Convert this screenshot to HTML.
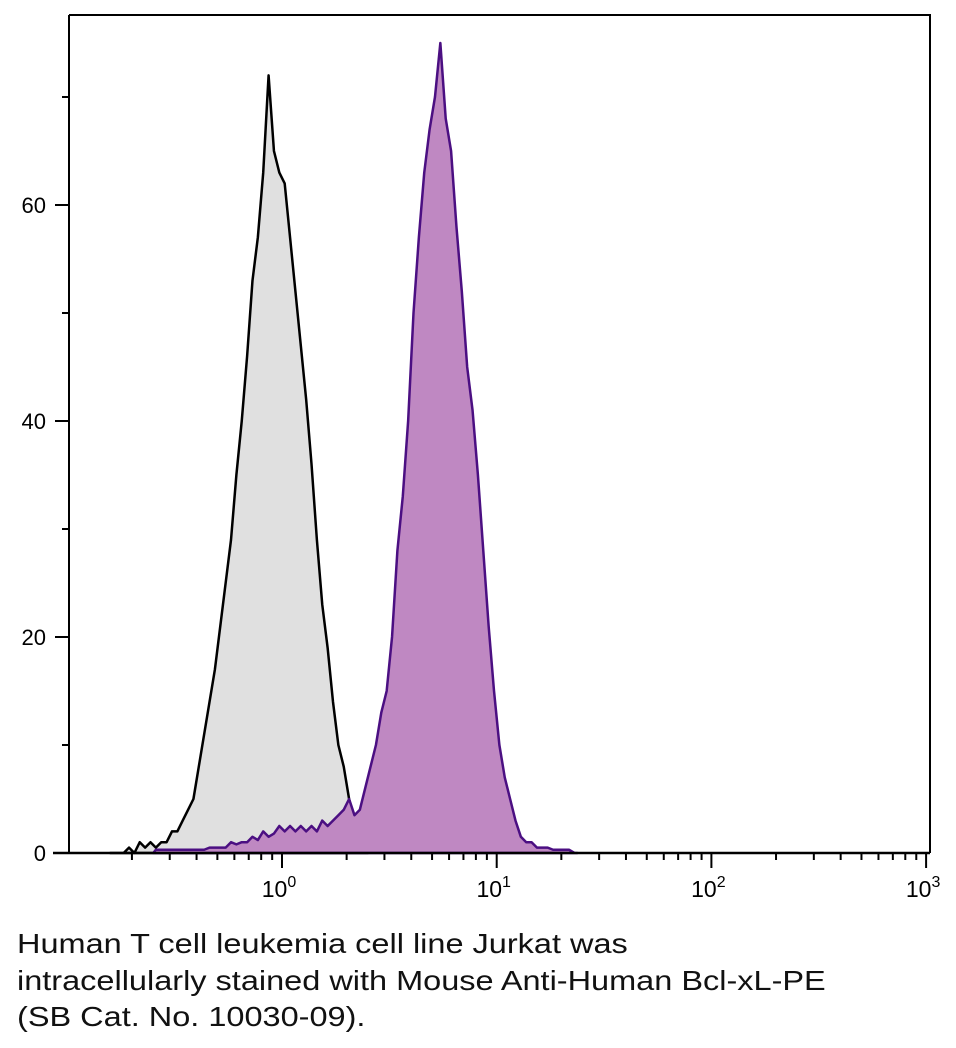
<!DOCTYPE html>
<html><head><meta charset="utf-8"><style>
body{margin:0;background:#fff;width:956px;height:1048px;overflow:hidden;font-family:"Liberation Sans",sans-serif}
#cap{position:absolute;left:17px;top:926px;font-size:28px;line-height:36.5px;color:#111;transform:scaleX(1.16);transform-origin:0 0;white-space:nowrap}
</style></head><body>
<svg id="chart" width="956" height="920" style="position:absolute;left:0;top:0"></svg>
<div id="cap">Human T cell leukemia cell line Jurkat was<br>intracellularly stained with Mouse Anti-Human Bcl-xL-PE<br>(SB Cat. No. 10030-09).</div>
<script>
const blackStart=-0.8, purpleStart=-0.6, binStep=0.025;
const blackCounts=[0,0,0,0.5,0,1,0.5,1,0.5,1,1,2,2,3,4,5,8,11,14,17,21,25,29,35,40,46,53,57,63,72,65,63,62,57,52,47,42,36,29,23,19,14,10,8,5,3,0.5,0];
const purpleCounts=[0.3,0.3,0.3,0.3,0.3,0.3,0.3,0.3,0.3,0.3,0.5,0.5,0.5,0.5,1,0.8,1,1,1.5,1.2,2,1.5,1.8,2.5,2,2.5,2,2.5,2,2.5,2,3,2.5,3,3.5,4,5,3.5,4,6,8,10,13,15,20,28,33,40,50,57,63,67,70,75,68,65,58,52,45,41,35,28,21,15,10,7,5,3,1.5,1,1,0.5,0.5,0.5,0.3,0.3,0.3,0.3,0];
const yTicks=[0,20,40,60];
const yMinor=[10,30,50,70];
const xDecades=[0,1,2,3];
const NS="http://www.w3.org/2000/svg";
const svg=document.getElementById('chart');
const L=69,R=930,T=15,B=853;
const xs=l=>282+(l)*214.7;
const ys=v=>B-v*10.8;
function mk(t,a){const e=document.createElementNS(NS,t);for(const k in a)e.setAttribute(k,a[k]);svg.appendChild(e);return e;}
function histPath(start,arr){
  let d="M"+xs(start)+","+B;
  arr.forEach((v,i)=>{const xc=xs(start+(i+0.5)*binStep);d+=" L"+xc+","+ys(v);});
  d+=" L"+xs(start+arr.length*binStep)+","+B+" Z";return d;
}
let p=mk('path',{d:histPath(blackStart,blackCounts),fill:'#e0e0e0',stroke:'#000','stroke-width':2.5,'stroke-linejoin':'round'});


p=mk('path',{d:histPath(purpleStart,purpleCounts),fill:'#bf88c2',stroke:'#4b0f82','stroke-width':2.5,'stroke-linejoin':'round'});


let f=mk('path',{d:`M${L},${T} H${R} V${B} M${L},${T} V${B}`,fill:'none',stroke:'#000','stroke-width':2});


let ax=mk('line',{x1:53,y1:B,x2:R,y2:B,stroke:'#000','stroke-width':2.5});


yTicks.forEach(v=>{
  mk('line',{x1:55,x2:L,y1:ys(v),y2:ys(v),stroke:'#000','stroke-width':2});
  const t=mk('text',{x:46,y:ys(v)+8,'font-size':22,'text-anchor':'end',fill:'#000'});
  t.textContent=v;
  
  
});
yMinor.forEach(v=>mk('line',{x1:62,x2:L,y1:ys(v),y2:ys(v),stroke:'#000','stroke-width':2}));
for(let d=-1;d<3;d++){for(let k=2;k<10;k++){const x=xs(d+Math.log10(k));if(x>L)mk('line',{x1:x,x2:x,y1:B,y2:B+7,stroke:'#000','stroke-width':2});}}
xDecades.forEach(d=>{
  const x=xs(d);
  mk('line',{x1:x,x2:x,y1:B,y2:B+15,stroke:'#000','stroke-width':2});
  const t=mk('text',{x:x-3,y:B+44,'font-size':23,'text-anchor':'middle',fill:'#000'});
  t.innerHTML='10<tspan dy="-10" font-size="16">'+d+'</tspan>';
  
  
});
</script>
</body></html>
